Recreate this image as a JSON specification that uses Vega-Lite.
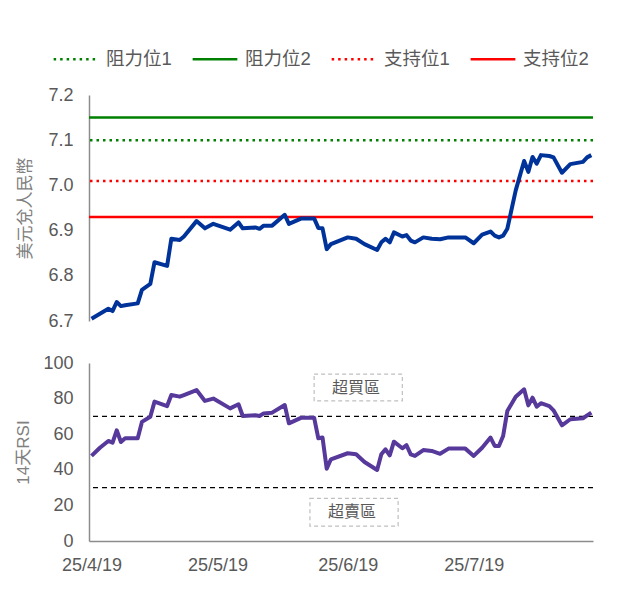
{
  "$schema": "https://vega.github.io/schema/vega-lite/v6.json",
  "background": "white",
  "padding": {"left": 14, "top": 35, "right": 10, "bottom": 10},
  "config": {
    "font": "Liberation Sans, Noto Sans CJK TC",
    "view": {"stroke": null},
    "axis": {
      "labelFont": "Liberation Sans, Noto Sans CJK TC",
      "labelFontSize": 18,
      "labelColor": "#595959",
      "titleFont": "Liberation Sans, Noto Sans CJK TC",
      "titleFontSize": 17,
      "titleColor": "#808080",
      "titleFontWeight": "normal",
      "domainColor": "#8c8c8c",
      "domainWidth": 1.5,
      "ticks": false,
      "grid": false
    },
    "legend": {
      "labelFont": "Liberation Sans, Noto Sans CJK TC",
      "labelFontSize": 18.5,
      "labelColor": "#595959",
      "symbolType": "stroke",
      "symbolSize": 2000,
      "symbolStrokeWidth": 2.5,
      "labelOffset": 6,
      "columnPadding": 15
    }
  },
  "datasets": {
    "series": [
      {"date": "2025-04-19", "rate": 6.705, "rsi": 47.8},
      {"date": "2025-04-21", "rate": 6.716, "rsi": 52.4},
      {"date": "2025-04-23", "rate": 6.727, "rsi": 56.2},
      {"date": "2025-04-24", "rate": 6.722, "rsi": 55.2},
      {"date": "2025-04-25", "rate": 6.742, "rsi": 62.2},
      {"date": "2025-04-26", "rate": 6.733, "rsi": 55.6},
      {"date": "2025-04-27", "rate": 6.735, "rsi": 57.7},
      {"date": "2025-04-30", "rate": 6.739, "rsi": 57.7},
      {"date": "2025-05-01", "rate": 6.769, "rsi": 66.9},
      {"date": "2025-05-03", "rate": 6.782, "rsi": 69.8},
      {"date": "2025-05-04", "rate": 6.830, "rsi": 78.3},
      {"date": "2025-05-07", "rate": 6.822, "rsi": 75.8},
      {"date": "2025-05-08", "rate": 6.882, "rsi": 82.0},
      {"date": "2025-05-10", "rate": 6.879, "rsi": 81.1},
      {"date": "2025-05-11", "rate": 6.887, "rsi": 82.0},
      {"date": "2025-05-14", "rate": 6.921, "rsi": 84.8},
      {"date": "2025-05-16", "rate": 6.905, "rsi": 78.7},
      {"date": "2025-05-18", "rate": 6.915, "rsi": 80.0},
      {"date": "2025-05-22", "rate": 6.902, "rsi": 74.5},
      {"date": "2025-05-24", "rate": 6.918, "rsi": 76.8},
      {"date": "2025-05-25", "rate": 6.905, "rsi": 70.2},
      {"date": "2025-05-28", "rate": 6.907, "rsi": 70.6},
      {"date": "2025-05-29", "rate": 6.904, "rsi": 70.2},
      {"date": "2025-05-30", "rate": 6.911, "rsi": 71.7},
      {"date": "2025-06-01", "rate": 6.911, "rsi": 72.1},
      {"date": "2025-06-04", "rate": 6.935, "rsi": 76.4},
      {"date": "2025-06-05", "rate": 6.915, "rsi": 66.1},
      {"date": "2025-06-08", "rate": 6.927, "rsi": 69.3},
      {"date": "2025-06-11", "rate": 6.927, "rsi": 69.3},
      {"date": "2025-06-12", "rate": 6.906, "rsi": 57.7},
      {"date": "2025-06-13", "rate": 6.905, "rsi": 58.1},
      {"date": "2025-06-14", "rate": 6.859, "rsi": 40.6},
      {"date": "2025-06-15", "rate": 6.870, "rsi": 45.9},
      {"date": "2025-06-19", "rate": 6.885, "rsi": 49.3},
      {"date": "2025-06-21", "rate": 6.882, "rsi": 48.7},
      {"date": "2025-06-23", "rate": 6.870, "rsi": 44.4},
      {"date": "2025-06-26", "rate": 6.857, "rsi": 39.9},
      {"date": "2025-06-27", "rate": 6.874, "rsi": 48.7},
      {"date": "2025-06-28", "rate": 6.882, "rsi": 51.5},
      {"date": "2025-06-29", "rate": 6.874, "rsi": 48.1},
      {"date": "2025-06-30", "rate": 6.896, "rsi": 55.8},
      {"date": "2025-07-02", "rate": 6.887, "rsi": 52.1},
      {"date": "2025-07-03", "rate": 6.890, "rsi": 53.8},
      {"date": "2025-07-04", "rate": 6.878, "rsi": 48.7},
      {"date": "2025-07-05", "rate": 6.874, "rsi": 47.8},
      {"date": "2025-07-07", "rate": 6.885, "rsi": 51.1},
      {"date": "2025-07-09", "rate": 6.882, "rsi": 50.6},
      {"date": "2025-07-11", "rate": 6.881, "rsi": 49.0},
      {"date": "2025-07-13", "rate": 6.885, "rsi": 51.9},
      {"date": "2025-07-17", "rate": 6.885, "rsi": 51.9},
      {"date": "2025-07-19", "rate": 6.872, "rsi": 47.8},
      {"date": "2025-07-21", "rate": 6.891, "rsi": 52.4},
      {"date": "2025-07-23", "rate": 6.898, "rsi": 58.1},
      {"date": "2025-07-24", "rate": 6.889, "rsi": 53.4},
      {"date": "2025-07-25", "rate": 6.885, "rsi": 53.4},
      {"date": "2025-07-26", "rate": 6.889, "rsi": 59.0},
      {"date": "2025-07-27", "rate": 6.904, "rsi": 73.0},
      {"date": "2025-07-29", "rate": 6.989, "rsi": 81.0},
      {"date": "2025-07-31", "rate": 7.054, "rsi": 85.2},
      {"date": "2025-08-01", "rate": 7.030, "rsi": 76.2},
      {"date": "2025-08-02", "rate": 7.063, "rsi": 80.5},
      {"date": "2025-08-03", "rate": 7.048, "rsi": 75.5},
      {"date": "2025-08-04", "rate": 7.067, "rsi": 77.4},
      {"date": "2025-08-06", "rate": 7.065, "rsi": 75.8},
      {"date": "2025-08-07", "rate": 7.062, "rsi": 73.4},
      {"date": "2025-08-09", "rate": 7.028, "rsi": 65.0},
      {"date": "2025-08-11", "rate": 7.047, "rsi": 68.4},
      {"date": "2025-08-14", "rate": 7.052, "rsi": 68.9},
      {"date": "2025-08-15", "rate": 7.062, "rsi": 70.6},
      {"date": "2025-08-16", "rate": 7.067, "rsi": 72.1}
    ],
    "levels": [
      {"name": "阻力位1", "level": 7.10},
      {"name": "阻力位2", "level": 7.15},
      {"name": "支持位1", "level": 7.01},
      {"name": "支持位2", "level": 6.93}
    ],
    "rsiLevels": [
      {"name": "超買線", "level": 70},
      {"name": "超賣線", "level": 30}
    ],
    "zones": [
      {"label": "超買區", "start": "2025-06-11", "end": "2025-07-02", "mid": "2025-06-21", "low": 78.7, "high": 93.7, "at": 86.2},
      {"label": "超賣區", "start": "2025-06-10", "end": "2025-07-01", "mid": "2025-06-20", "low": 8.4, "high": 24.0, "at": 16.2}
    ]
  },
  "bounds": "flush",
  "spacing": 42,
  "vconcat": [
    {
      "width": 504,
      "height": 226,
      "layer": [
        {
          "data": {"name": "levels"},
          "mark": {"type": "rule", "strokeWidth": 2.5},
          "encoding": {
            "y": {"field": "level", "type": "quantitative", "scale": {"domain": [6.7, 7.2], "zero": false, "nice": false}, "axis": {"title": "美元兌人民幣", "values": [6.7, 6.8, 6.9, 7.0, 7.1, 7.2], "format": ".1f", "labelPadding": 16, "titlePadding": 13}},
            "color": {"field": "name", "type": "nominal", "scale": {"domain": ["阻力位1", "阻力位2", "支持位1", "支持位2"], "range": ["#008000", "#008000", "#ff0000", "#ff0000"]}, "legend": {"title": null, "orient": "none", "direction": "horizontal", "legendX": -37, "legendY": -60}},
            "strokeDash": {"field": "name", "type": "nominal", "scale": {"domain": ["阻力位1", "阻力位2", "支持位1", "支持位2"], "range": [[2.5, 4], [1, 0], [2.5, 4], [1, 0]]}, "legend": {"title": null, "orient": "none", "direction": "horizontal", "legendX": -37, "legendY": -60}}
          }
        },
        {
          "data": {"name": "series"},
          "mark": {"type": "line", "color": "#003399", "strokeWidth": 4, "strokeJoin": "round"},
          "encoding": {
            "x": {"field": "date", "type": "temporal", "scale": {"type": "utc", "domain": [{"year": 2025, "month": 4, "date": 18, "hours": 9, "minutes": 36, "utc": true}, {"year": 2025, "month": 8, "date": 16, "hours": 9, "minutes": 36, "utc": true}]}, "axis": null},
            "y": {"field": "rate", "type": "quantitative", "scale": {"domain": [6.7, 7.2], "zero": false, "nice": false}, "axis": {"title": "美元兌人民幣", "values": [6.7, 6.8, 6.9, 7.0, 7.1, 7.2], "format": ".1f", "labelPadding": 16, "titlePadding": 13}}
          }
        }
      ]
    },
    {
      "width": 504,
      "height": 178,
      "layer": [
        {
          "data": {"name": "rsiLevels"},
          "mark": {"type": "rule", "color": "#000000", "strokeWidth": 1.3, "strokeDash": [5, 4]},
          "encoding": {
            "y": {"field": "level", "type": "quantitative", "scale": {"domain": [0, 100], "nice": false}, "axis": {"title": "14天RSI", "values": [0, 20, 40, 60, 80, 100], "labelPadding": 16, "titlePadding": 10}}
          }
        },
        {
          "data": {"name": "zones"},
          "mark": {"type": "rect", "filled": false, "stroke": "#bfbfbf", "strokeWidth": 1.2, "strokeDash": [4, 3]},
          "encoding": {
            "x": {"field": "start", "type": "temporal", "scale": {"type": "utc", "domain": [{"year": 2025, "month": 4, "date": 18, "hours": 9, "minutes": 36, "utc": true}, {"year": 2025, "month": 8, "date": 16, "hours": 9, "minutes": 36, "utc": true}]}, "axis": {"title": null, "values": [{"year": 2025, "month": 4, "date": 19, "utc": true}, {"year": 2025, "month": 5, "date": 19, "utc": true}, {"year": 2025, "month": 6, "date": 19, "utc": true}, {"year": 2025, "month": 7, "date": 19, "utc": true}], "labelExpr": "utcFormat(datum.value, '%y/%-m/%-d')", "labelPadding": 15, "labelFlush": false, "labelOverlap": false}},
            "x2": {"field": "end"},
            "y": {"field": "low", "type": "quantitative", "axis": {"title": "14天RSI", "values": [0, 20, 40, 60, 80, 100], "labelPadding": 16, "titlePadding": 10}},
            "y2": {"field": "high"}
          }
        },
        {
          "data": {"name": "zones"},
          "mark": {"type": "text", "fontSize": 16, "color": "#595959", "font": "Noto Sans CJK TC"},
          "encoding": {
            "x": {"field": "mid", "type": "temporal", "axis": {"title": null, "values": [{"year": 2025, "month": 4, "date": 19, "utc": true}, {"year": 2025, "month": 5, "date": 19, "utc": true}, {"year": 2025, "month": 6, "date": 19, "utc": true}, {"year": 2025, "month": 7, "date": 19, "utc": true}], "labelExpr": "utcFormat(datum.value, '%y/%-m/%-d')", "labelPadding": 15, "labelFlush": false, "labelOverlap": false}},
            "y": {"field": "at", "type": "quantitative", "axis": {"title": "14天RSI", "values": [0, 20, 40, 60, 80, 100], "labelPadding": 16, "titlePadding": 10}},
            "text": {"field": "label"}
          }
        },
        {
          "data": {"name": "series"},
          "mark": {"type": "line", "color": "#56399a", "strokeWidth": 4, "strokeJoin": "round"},
          "encoding": {
            "x": {"field": "date", "type": "temporal", "scale": {"type": "utc", "domain": [{"year": 2025, "month": 4, "date": 18, "hours": 9, "minutes": 36, "utc": true}, {"year": 2025, "month": 8, "date": 16, "hours": 9, "minutes": 36, "utc": true}]}, "axis": {"title": null, "values": [{"year": 2025, "month": 4, "date": 19, "utc": true}, {"year": 2025, "month": 5, "date": 19, "utc": true}, {"year": 2025, "month": 6, "date": 19, "utc": true}, {"year": 2025, "month": 7, "date": 19, "utc": true}], "labelExpr": "utcFormat(datum.value, '%y/%-m/%-d')", "labelPadding": 15, "labelFlush": false, "labelOverlap": false}},
            "y": {"field": "rsi", "type": "quantitative", "scale": {"domain": [0, 100], "nice": false}, "axis": {"title": "14天RSI", "values": [0, 20, 40, 60, 80, 100], "labelPadding": 16, "titlePadding": 10}}
          }
        }
      ]
    }
  ]
}
